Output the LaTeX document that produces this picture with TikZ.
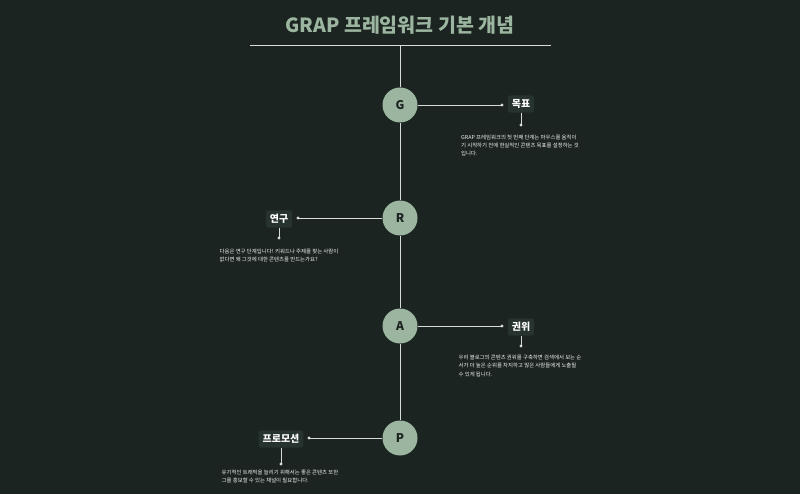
\documentclass[tikz,border=0pt]{standalone}
\usepackage{fontspec}
\setmainfont{Noto Sans CJK KR}
\definecolor{bg}{HTML}{1B2420}
\definecolor{sage}{HTML}{9CB5A0}
\definecolor{boxc}{HTML}{27332E}
\definecolor{linec}{HTML}{D8DCD9}
\begin{document}
\begin{tikzpicture}[x=1pt,y=-1pt,
  circ/.style={circle, fill=sage, minimum size=35pt, inner sep=0pt, text=bg, font=\bfseries\fontsize{12}{12}\selectfont},
  lab/.style={fill=boxc, rounded corners=2.5pt, text=white, inner xsep=4pt, inner ysep=4pt, font=\bfseries\fontsize{10}{10}\selectfont},
  desc/.style={text=white!95!black, align=left, anchor=north, inner sep=0pt, font=\fontsize{5.4}{8.2}\selectfont},
  conn/.style={draw=linec, line width=0.9pt},
  dotc/.style={fill=linec}
]
\fill[bg] (0,0) rectangle (800,494);
\useasboundingbox (0,0) rectangle (800,494);

% title
\node[text=sage, font=\bfseries\fontsize{19.5}{20}\selectfont] (title) at (400,25) {GRAP 프레임워크 기본 개념};
\coordinate (tl) at (250,45);
\coordinate (tr) at (551,45);
\coordinate (tm) at (400,45);
\draw[conn] (tl) -- (tr);

% circles
\node[circ] (G) at (400,105) {G};
\node[circ] (R) at (400,218) {R};
\node[circ] (A) at (400,326) {A};
\node[circ] (P) at (400,438) {P};

\draw[conn] (tm) -- (G);
\draw[conn] (G) -- (R);
\draw[conn] (R) -- (A);
\draw[conn] (A) -- (P);

% G
\coordinate (gd) at (502,105);
\node[lab] (gl) at (521,104) {목표};
\coordinate (gs) at (521,125);
\draw[conn] (G) -- (gd);
\fill[dotc] (gd) circle (1.6pt);
\draw[conn] (gl.south) -- (gs);
\fill[dotc] (gs) circle (1.6pt);
\node[desc] (gt) at (520,134.5) {GRAP 프레임워크의 첫 번째 단계는 마우스를 움직이\\기 시작하기 전에 현실적인 콘텐츠 목표를 설정하는 것\\입니다.};

% R
\coordinate (rd) at (298,218);
\node[lab] (rl) at (279,219) {연구};
\coordinate (rs) at (279,238);
\draw[conn] (R) -- (rd);
\fill[dotc] (rd) circle (1.6pt);
\draw[conn] (rl.south) -- (rs);
\fill[dotc] (rs) circle (1.6pt);
\node[desc] (rt) at (279,249) {다음은 연구 단계입니다! 키워드나 주제를 찾는 사람이\\없다면 왜 그것에 대한 콘텐츠를 만드는가요?};

% A
\coordinate (ad) at (502,326);
\node[lab] (al) at (521,327) {권위};
\coordinate (as) at (521,346);
\draw[conn] (A) -- (ad);
\fill[dotc] (ad) circle (1.6pt);
\draw[conn] (al.south) -- (as);
\fill[dotc] (as) circle (1.6pt);
\node[desc] (at) at (520,355) {우리 블로그의 콘텐츠 권위를 구축하면 검색에서 보는 순\\서가 더 높은 순위를 차지하고 많은 사람들에게 노출될\\수 있게 됩니다.};

% P
\coordinate (pd) at (309,438);
\node[lab] (pl) at (281,439) {프로모션};
\coordinate (ps) at (281,464);
\draw[conn] (P) -- (pd);
\fill[dotc] (pd) circle (1.6pt);
\draw[conn] (pl.south) -- (ps);
\fill[dotc] (ps) circle (1.6pt);
\node[desc] (pt) at (280,469.5) {유기적인 트래픽을 늘리기 위해서는 좋은 콘텐츠 또한\\그를 홍보할 수 있는 채널이 필요합니다.};
\end{tikzpicture}
\end{document}
